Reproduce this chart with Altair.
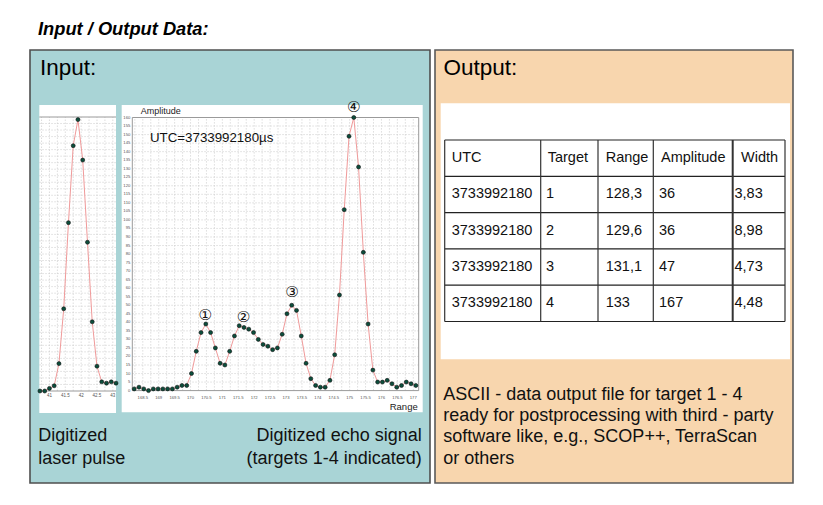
import altair as alt
import pandas as pd

# ---------------- chart data ----------------
pulse_range = [40.70, 40.85, 41.00, 41.15, 41.30, 41.45, 41.60, 41.75, 41.90,
               42.05, 42.20, 42.35, 42.50, 42.65, 42.80, 42.95, 43.10]
pulse_amp = [0, 0, 2, 4, 21, 63, 129, 188, 208, 177, 114, 53, 19, 7, 6, 7, 6]

echo_range = [168.23, 168.38, 168.53, 168.68, 168.83, 168.98, 169.13, 169.28, 169.43, 169.58,
              169.73, 169.88, 170.03, 170.18, 170.33, 170.48, 170.63, 170.78, 170.93, 171.08,
              171.23, 171.38, 171.53, 171.68, 171.83, 171.98, 172.13, 172.28, 172.43, 172.58,
              172.73, 172.88, 173.03, 173.18, 173.33, 173.48, 173.63, 173.78, 173.93, 174.08,
              174.23, 174.38, 174.53, 174.68, 174.83, 174.98, 175.13, 175.28, 175.43, 175.58,
              175.73, 175.88, 176.03, 176.18, 176.33, 176.48, 176.63, 176.78, 176.93, 177.08]
echo_amp = [1, 2, 1, 0, 1, 1, 1, 1, 1, 2,
            3, 3, 10, 23, 34, 39, 34, 25, 16, 15,
            23, 32, 38, 37, 36, 34, 30, 27, 26, 24,
            25, 33, 45, 50, 47, 32, 16, 7, 3, 2,
            2, 6, 21, 56, 106, 149, 160, 131, 81, 39,
            12, 5, 5, 6, 4, 2, 3, 5, 4, 3]

peak_labels = ["①", "②", "③", "④"]
peak_label_range = [170.46, 171.66, 173.19, 175.13]
peak_label_amp = [44, 43, 57.5, 166]

echo_x_tick_labels = ["168.5", "169", "169.5", "170", "170.5", "171", "171.5", "172", "172.5",
                      "173", "173.5", "174", "174.5", "175", "175.5", "176", "176.5", "177"]
echo_y_tick_labels = ["0", "5", "10", "15", "20", "25", "30", "35", "40", "45", "50", "55",
                      "60", "65", "70", "75", "80", "85", "90", "95", "100", "105", "110",
                      "115", "120", "125", "130", "135", "140", "145", "150", "155", "160"]
pulse_x_tick_labels = ["41", "41.5", "42", "42.5", "43"]

utc_label = "UTC=3733992180µs"

table_header = ["UTC", "Target", "Range", "Amplitude", "Width"]
table_utc = ["3733992180", "3733992180", "3733992180", "3733992180"]
table_target = ["1", "2", "3", "4"]
table_range = ["128,3", "129,6", "131,1", "133"]
table_amplitude = ["36", "36", "47", "167"]
table_width = ["3,83", "8,98", "4,73", "4,48"]

title_text = "Input / Output Data:"
input_title = "Input:"
output_title = "Output:"
pulse_caption = ["Digitized", "laser pulse"]
echo_caption = ["Digitized echo signal", "(targets 1-4 indicated)"]
output_caption = ["ASCII - data output file for target 1 - 4",
                  "ready for postprocessing with third - party",
                  "software like, e.g., SCOP++, TerraScan",
                  "or others"]

# ---------------- layout (page pixels) ----------------
M = 8
W, H = 807, 489
FONT = "Liberation Sans"

TEAL = "#a9d4d6"
PEACH = "#f8d6ae"
LINE_RED = "#f09a9a"
DOT = "#0c4e3c"
GRID = "#cfcfcf"
FRAME = "#9a9a9a"


def sc(domain, rng):
    return alt.Scale(domain=domain, range=[r - M for r in rng], nice=False, zero=False)


LAYX = sc([8, 815], [8, 815])
LAYY = sc([8, 497], [8, 497])
ECHOX = sc([168.17, 177.17], [132.3, 418.7])
ECHOY = sc([0, 160], [390.6, 117.5])
PULSX = sc([40.68, 43.10], [39.3, 116.0])
PULSY = sc([0, 210], [391.0, 117.0])


def rects(df, xs, ys, **mark):
    return alt.Chart(df).mark_rect(**mark).encode(
        x=alt.X("x0:Q", scale=xs, axis=None), x2="x1:Q",
        y=alt.Y("y0:Q", scale=ys, axis=None), y2="y1:Q")


def texts(df, xs, ys, **mark):
    return alt.Chart(df).mark_text(**mark).encode(
        x=alt.X("x:Q", scale=xs, axis=None),
        y=alt.Y("y:Q", scale=ys, axis=None),
        text="t:N")


def vrules(vals, lo, hi, xs, ys, **mark):
    df = pd.DataFrame({"v": vals, "lo": lo, "hi": hi})
    return alt.Chart(df).mark_rule(**mark).encode(
        x=alt.X("v:Q", scale=xs, axis=None),
        y=alt.Y("lo:Q", scale=ys, axis=None), y2="hi:Q")


def hrules(vals, lo, hi, xs, ys, **mark):
    df = pd.DataFrame({"v": vals, "lo": lo, "hi": hi})
    return alt.Chart(df).mark_rule(**mark).encode(
        y=alt.Y("v:Q", scale=ys, axis=None),
        x=alt.X("lo:Q", scale=xs, axis=None), x2="hi:Q")


layers = []

# background boxes
layers.append(rects(pd.DataFrame({"x0": [30], "x1": [430], "y0": [50], "y1": [483]}),
                    LAYX, LAYY, fill=TEAL, stroke="#4f4f4f", strokeWidth=1.6))
layers.append(rects(pd.DataFrame({"x0": [435], "x1": [793], "y0": [50], "y1": [483]}),
                    LAYX, LAYY, fill=PEACH, stroke="#5a5a5a", strokeWidth=1.6))
# white panels
layers.append(rects(pd.DataFrame({"x0": [39.3, 121.7, 440.7], "x1": [116.0, 422.7, 790.0],
                                  "y0": [105, 105, 103.3], "y1": [413, 412.3, 359.3]}),
                    LAYX, LAYY, fill="white"))

# ---- pulse plot ----
pulse_vgrid = [40.75, 41.0, 41.25, 41.5, 41.75, 42.0, 42.25, 42.5, 42.75, 43.0]
pulse_hgrid = [v for v in range(5, 210, 5)]
layers.append(vrules(pulse_vgrid, 0, 210, PULSX, PULSY, color=GRID, strokeWidth=0.7, strokeDash=[1.5, 1.5]))
layers.append(hrules(pulse_hgrid, 40.68, 43.10, PULSX, PULSY, color=GRID, strokeWidth=0.7, strokeDash=[1.5, 1.5]))
layers.append(hrules([0, 210], 40.68, 43.10, PULSX, PULSY, color=FRAME, strokeWidth=1))
pulse_df = pd.DataFrame({"r": pulse_range, "a": pulse_amp})
layers.append(alt.Chart(pulse_df).mark_line(color=LINE_RED, strokeWidth=1).encode(
    x=alt.X("r:Q", scale=PULSX, axis=None), y=alt.Y("a:Q", scale=PULSY, axis=None)))
layers.append(alt.Chart(pulse_df).mark_circle(size=16, color=DOT, opacity=1, stroke="#111", strokeWidth=0.6).encode(
    x=alt.X("r:Q", scale=PULSX, axis=None), y=alt.Y("a:Q", scale=PULSY, axis=None)))
layers.append(texts(pd.DataFrame({"x": [float(t) for t in pulse_x_tick_labels], "y": [0] * 5,
                                  "t": pulse_x_tick_labels}),
                    PULSX, PULSY, dy=5, fontSize=4.5, font=FONT, color="#555", baseline="middle"))

# ---- echo plot ----
echo_vgrid = [168.25 + 0.25 * i for i in range(36)]
echo_hgrid = [v for v in range(5, 160, 5)]
layers.append(vrules(echo_vgrid, 0, 160, ECHOX, ECHOY, color=GRID, strokeWidth=0.7, strokeDash=[1.5, 1.5]))
layers.append(hrules(echo_hgrid, 168.17, 177.17, ECHOX, ECHOY, color=GRID, strokeWidth=0.7, strokeDash=[1.5, 1.5]))
layers.append(rects(pd.DataFrame({"x0": [168.17], "x1": [177.17], "y0": [0], "y1": [160]}),
                    ECHOX, ECHOY, fill="white", fillOpacity=0, stroke=FRAME, strokeWidth=1))
echo_df = pd.DataFrame({"r": echo_range, "a": echo_amp})
layers.append(alt.Chart(echo_df).mark_line(color=LINE_RED, strokeWidth=1).encode(
    x=alt.X("r:Q", scale=ECHOX, axis=None), y=alt.Y("a:Q", scale=ECHOY, axis=None)))
layers.append(alt.Chart(echo_df).mark_circle(size=16, color=DOT, opacity=1, stroke="#111", strokeWidth=0.6).encode(
    x=alt.X("r:Q", scale=ECHOX, axis=None), y=alt.Y("a:Q", scale=ECHOY, axis=None)))
layers.append(texts(pd.DataFrame({"x": [float(t) for t in echo_x_tick_labels],
                                  "y": [0] * len(echo_x_tick_labels), "t": echo_x_tick_labels}),
                    ECHOX, ECHOY, dy=7, fontSize=4.2, font=FONT, color="#555", baseline="middle"))
layers.append(texts(pd.DataFrame({"x": [168.17] * len(echo_y_tick_labels),
                                  "y": [float(t) for t in echo_y_tick_labels], "t": echo_y_tick_labels}),
                    ECHOX, ECHOY, dx=-2, fontSize=4.2, font=FONT, color="#555", align="right", baseline="middle"))
layers.append(texts(pd.DataFrame({"x": peak_label_range, "y": peak_label_amp, "t": peak_labels}),
                    ECHOX, ECHOY, fontSize=15, font="DejaVu Sans", color="#111", baseline="middle"))

# ---- table ----
col_b = [444.7, 540.7, 598.0, 653.3, 732.7, 785.0]
row_b = [140.0, 176.3, 212.6, 248.9, 285.2, 321.5]
col_w = [1.2, 1.2, 1.2, 1.2, 2.0, 1.2]
layers.append(hrules(row_b, col_b[0], col_b[-1], LAYX, LAYY, color="#222", strokeWidth=1.2))
vdf = pd.DataFrame({"v": col_b, "lo": row_b[0], "hi": row_b[-1], "w": col_w})
layers.append(alt.Chart(vdf).mark_rule(color="#333").encode(
    x=alt.X("v:Q", scale=LAYX, axis=None),
    y=alt.Y("lo:Q", scale=LAYY, axis=None), y2="hi:Q",
    strokeWidth=alt.StrokeWidth("w:Q", scale=None)))
head_pad = [7, 7, 7.7, 7.7, 8.3]
body_pad = [7, 5.3, 7.7, 5.7, 1.8]
cells = []
for j, h in enumerate(table_header):
    cells.append({"x": col_b[j] + head_pad[j], "y": (row_b[0] + row_b[1]) / 2, "t": h})
body_cols = [table_utc, table_target, table_range, table_amplitude, table_width]
for i in range(4):
    for j, col in enumerate(body_cols):
        cells.append({"x": col_b[j] + body_pad[j], "y": (row_b[i + 1] + row_b[i + 2]) / 2, "t": col[i]})
layers.append(texts(pd.DataFrame(cells), LAYX, LAYY, fontSize=14.5, font=FONT, color="#111",
                    align="left", baseline="middle"))

# ---- free texts ----
layers.append(texts(pd.DataFrame({"x": [38], "y": [34.5], "t": [title_text]}), LAYX, LAYY,
                    fontSize=18.3, font=FONT, fontWeight="bold", fontStyle="italic", color="#000",
                    align="left", baseline="alphabetic"))
layers.append(texts(pd.DataFrame({"x": [40, 443.5], "y": [75, 75], "t": [input_title, output_title]}),
                    LAYX, LAYY, fontSize=22.5, font=FONT, color="#000", align="left", baseline="alphabetic"))
layers.append(texts(pd.DataFrame({"x": [140.7], "y": [110.7], "t": ["Amplitude"]}), LAYX, LAYY,
                    fontSize=9, font=FONT, color="#222", align="left", baseline="middle"))
layers.append(texts(pd.DataFrame({"x": [417.7], "y": [406.7], "t": ["Range"]}), LAYX, LAYY,
                    fontSize=9.5, font=FONT, color="#222", align="right", baseline="middle"))
layers.append(texts(pd.DataFrame({"x": [150], "y": [138.3], "t": [utc_label]}), LAYX, LAYY,
                    fontSize=13.3, font=FONT, color="#111", align="left", baseline="middle"))
layers.append(texts(pd.DataFrame({"x": [38.3, 38.3], "y": [441, 464], "t": pulse_caption}), LAYX, LAYY,
                    fontSize=18, font=FONT, color="#111", align="left", baseline="alphabetic"))
layers.append(texts(pd.DataFrame({"x": [421.7, 421.7], "y": [441, 464], "t": echo_caption}), LAYX, LAYY,
                    fontSize=18, font=FONT, color="#111", align="right", baseline="alphabetic"))
layers.append(texts(pd.DataFrame({"x": [443.3] * 4, "y": [399.5, 421.0, 442.3, 463.6], "t": output_caption}),
                    LAYX, LAYY, fontSize=18, font=FONT, color="#111", align="left", baseline="alphabetic"))

chart = alt.layer(*layers).resolve_scale(x="independent", y="independent").properties(
    width=W, height=H, padding=0, autosize=alt.AutoSizeParams(type="none")
).configure_view(stroke=None)

chart.save("out.html", embed_options={"renderer": "svg", "actions": False})
